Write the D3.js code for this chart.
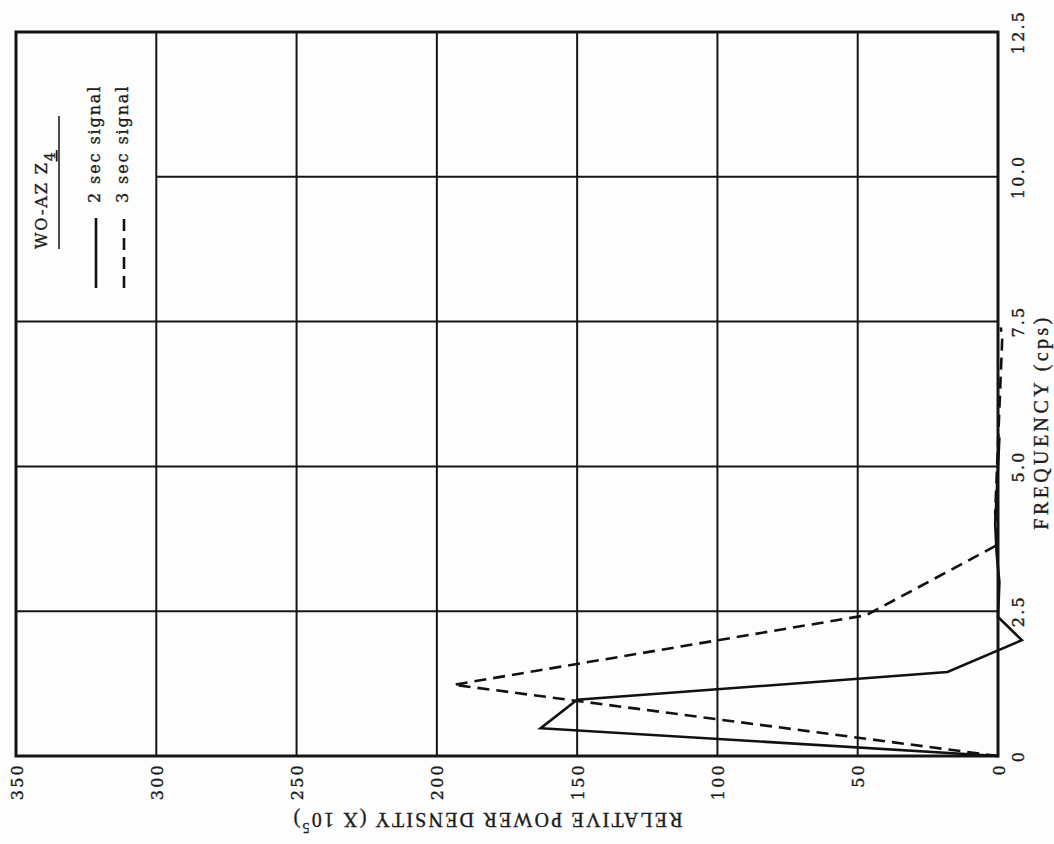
<!DOCTYPE html>
<head>
<meta charset="utf-8">
<style>
body { margin: 0; background: #fdfdfd; }
.grid { stroke: #151515; stroke-width: 2px; fill: none; }
.frame { stroke: #151515; stroke-width: 3px; fill: none; }
.sig { fill: none; stroke: #111; stroke-width: 2.6px; stroke-linejoin: miter; }
.dash { stroke-dasharray: 12 7; }
.tick { font-family: "DejaVu Serif", serif; font-size: 16px; letter-spacing: 2.2px; fill: #1c1c1c; stroke: #1c1c1c; stroke-width: 0.35px; }
.title { font-family: "Liberation Serif", serif; font-size: 20px; fill: #1c1c1c; stroke: #1c1c1c; stroke-width: 0.35px; }
.leg { font-family: "DejaVu Serif", serif; font-size: 16px; letter-spacing: 1.9px; fill: #1c1c1c; stroke: #1c1c1c; stroke-width: 0.35px; }
</style>
<title>WO-AZ Z4</title>
</head>
<body>
<script src="https://cdn.jsdelivr.net/npm/d3@7"></script>
<script>

var width = 1054, height = 844;

// tick values
var powTicks = [0, 50, 100, 150, 200, 250, 300, 350];
var freqTicks = [0, 2.5, 5.0, 7.5, 10.0, 12.5];
var freqLabels = ["0", "2.5", "5.0", "7.5", "10.0", "12.5"];

// 2 sec signal (solid)
var freq2 = [0, 0.48, 0.97, 1.45, 2.0, 2.4, 3.0, 3.5, 4.0, 4.5, 5.0, 5.5];
var pow2  = [0, 163, 150, 18, -8.5, 0, -0.5, 0.5, 1, 0.5, 0, -0.5];

// 3 sec signal (dashed)
var freq3 = [0, 1.23, 2.43, 3.65, 4.2, 4.8, 5.4, 6.0, 6.6, 7.2, 7.4];
var pow3  = [0, 194, 47, 0, 1, 0.5, 0, -0.5, -1, -1.5, -1];

// the sheet is turned: power runs right-to-left, frequency bottom-to-top
var x = d3.scaleLinear().domain([0, 350]).range([998, 16]);
var y = d3.scaleLinear().domain([0, 12.5]).range([756, 32]);

var svg = d3.select("body").append("svg")
    .attr("width", width)
    .attr("height", height);

// vertical grid (power)
svg.selectAll("line.pg")
    .data(powTicks.slice(1, -1))
  .enter().append("line")
    .attr("class", "grid")
    .attr("x1", function(d) { return x(d); })
    .attr("x2", function(d) { return x(d); })
    .attr("y1", y(12.5))
    .attr("y2", y(0));

// horizontal grid (frequency); 10.0 line stops at the legend box
svg.selectAll("line.fg")
    .data(freqTicks.slice(1, -1))
  .enter().append("line")
    .attr("class", "grid")
    .attr("x1", function(d) { return d == 10 ? x(300) : x(350); })
    .attr("x2", x(0))
    .attr("y1", function(d) { return y(d); })
    .attr("y2", function(d) { return y(d); });

svg.append("rect")
    .attr("class", "frame")
    .attr("x", x(350))
    .attr("y", y(12.5))
    .attr("width", x(0) - x(350))
    .attr("height", y(0) - y(12.5));

var line = d3.line()
    .x(function(d) { return x(d[1]); })
    .y(function(d) { return y(d[0]); });

svg.append("path")
    .datum(d3.zip(freq2, pow2))
    .attr("class", "sig")
    .attr("d", line);

svg.append("path")
    .datum(d3.zip(freq3, pow3))
    .attr("class", "sig dash")
    .attr("d", line);

// power tick labels
svg.selectAll("text.pt")
    .data(powTicks)
  .enter().append("text")
    .attr("class", "tick")
    .attr("text-anchor", "end")
    .attr("dominant-baseline", "central")
    .attr("transform", function(d) { return "translate(" + (x(d) + 1) + ",763)rotate(-90)"; })
    .text(function(d) { return d; });

// frequency tick labels
svg.selectAll("text.ft")
    .data(freqTicks)
  .enter().append("text")
    .attr("class", "tick")
    .attr("text-anchor", "middle")
    .attr("dominant-baseline", "central")
    .attr("transform", function(d) { return "translate(1018," + y(d) + ")rotate(-90)"; })
    .text(function(d, i) { return freqLabels[i]; });

// axis titles
var pt = svg.append("text")
    .attr("class", "title")
    .attr("text-anchor", "middle")
    .attr("dominant-baseline", "central")
    .attr("letter-spacing", "2.2px")
    .attr("transform", "translate(487,820)rotate(180)");
pt.append("tspan").text("RELATIVE POWER DENSITY (X 10");
pt.append("tspan").attr("baseline-shift", "super").attr("font-size", "14px").text("5");
pt.append("tspan").text(")");

svg.append("text")
    .attr("class", "title")
    .attr("text-anchor", "middle")
    .attr("dominant-baseline", "central")
    .attr("letter-spacing", "3.4px")
    .attr("transform", "translate(1041,422)rotate(-90)")
    .text("FREQUENCY (cps)");

// legend
var lt = svg.append("text")
    .attr("class", "leg")
    .attr("font-size", "19px")
    .attr("letter-spacing", "1.8px")
    .attr("transform", "translate(47,249)rotate(-90)");
lt.append("tspan").text("WO-AZ Z");
lt.append("tspan").attr("baseline-shift", "sub").attr("font-size", "14px")
    .attr("text-decoration", "underline").text("4");

svg.append("line")
    .attr("x1", 59).attr("x2", 59)
    .attr("y1", 249).attr("y2", 116)
    .attr("stroke", "#222").attr("stroke-width", 1.6);

var legItems = [
  { label: "2 sec signal", cls: "sig", cx: 96 },
  { label: "3 sec signal", cls: "sig dash", cx: 124 }
];

legItems.forEach(function(d) {
  svg.append("line")
      .attr("class", d.cls)
      .attr("x1", d.cx).attr("x2", d.cx)
      .attr("y1", 288).attr("y2", 218);
  svg.append("text")
      .attr("class", "leg")
      .attr("dominant-baseline", "central")
      .attr("transform", "translate(" + (d.cx - 2) + ",203)rotate(-90)")
      .text(d.label);
});

</script>
</body>
